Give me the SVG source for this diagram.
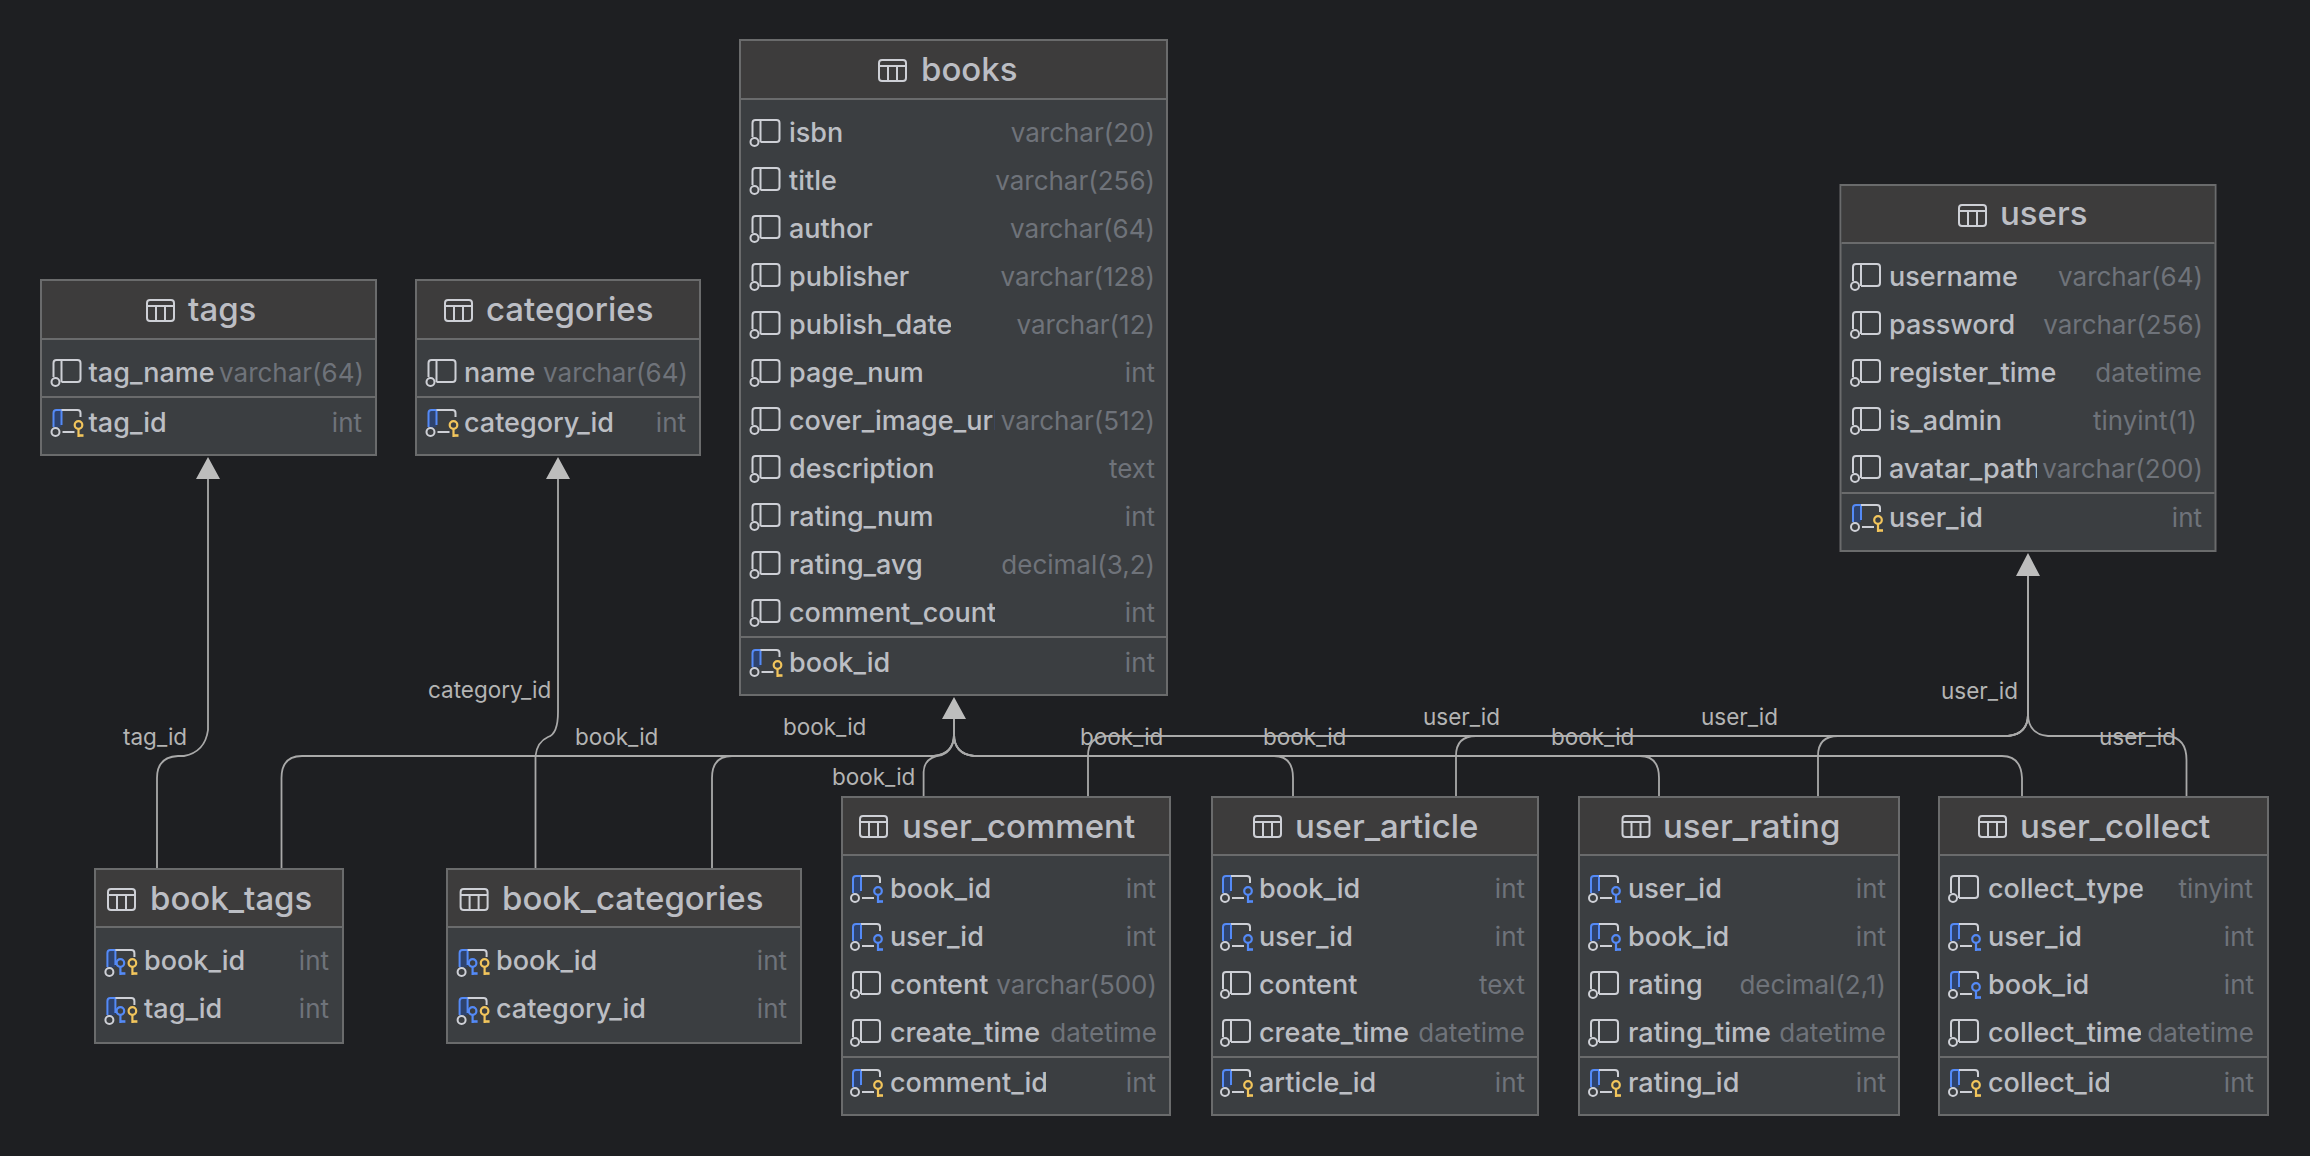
<svg xmlns="http://www.w3.org/2000/svg" width="2310" height="1156" viewBox="0 0 2310 1156">
<style>
text{font-family:Inter,"Noto Sans","Liberation Sans",sans-serif}
.b{fill:#3b3e41;stroke:#6a6b6c;stroke-width:2}
.h{fill:#3d3c3c}
.s{stroke:#6a6b6c;stroke-width:2;fill:none}
.t{font-size:33px;font-weight:500;fill:#bcbec4}
.n{font-size:27px;font-weight:500;fill:#bcbec4}
.y{font-size:26px;fill:#6f737a;text-anchor:end}
.l{font-size:22.500px;fill:#b4b4b4}
.c{fill:none;stroke:#a9a9a9;stroke-width:1.800}
.a{fill:#bdbdbd}
.ic{fill:none;stroke:#ced0d6;stroke-width:2}
</style>
<defs>
<clipPath id="c1"><rect x="780" y="300" width="171" height="48"/></clipPath>
<clipPath id="c2"><rect x="780" y="396" width="215" height="48"/></clipPath>
<clipPath id="c3"><rect x="780" y="444" width="154" height="48"/></clipPath>
<clipPath id="c4"><rect x="780" y="588" width="215" height="48"/></clipPath>
<clipPath id="c5"><rect x="460" y="400" width="154" height="50"/></clipPath>
<clipPath id="c6"><rect x="490" y="985" width="155" height="48"/></clipPath>
<clipPath id="c7"><rect x="1880" y="348" width="179" height="48"/></clipPath>
<clipPath id="c8"><rect x="1880" y="396" width="121" height="48"/></clipPath>
<clipPath id="c9"><rect x="1880" y="444" width="157" height="48"/></clipPath>
<clipPath id="c10"><rect x="885" y="1060" width="161" height="50"/></clipPath>
<clipPath id="c11"><rect x="1255" y="1060" width="120.500" height="50"/></clipPath>
<clipPath id="c12"><rect x="1980" y="864" width="162.700" height="48"/></clipPath>
<clipPath id="c13"><rect x="1980" y="1008" width="161" height="48"/></clipPath>
<clipPath id="c14"><rect x="1980" y="1060" width="129" height="50"/></clipPath>
<g id="ti"><rect x="1" y="1" width="27" height="21" rx="3" class="ic"/><path d="M1 7H28M10 7V22M19 7V22" class="ic"/></g>
<g id="col"><path d="M2 5V-9Q2-12 5-12H26Q29-12 29-9V7Q29 10 26 10H10M10-12V10" class="ic"/><circle cx="4" cy="10" r="4" class="ic"/></g>
<g id="blue"><path d="M2 6V-9Q2-12 5-12H10V5Z" fill="#2e436e"/><path d="M2 5V-9Q2-12 5-12H10V3" fill="none" stroke="#548af7" stroke-width="2"/><path d="M10-12H26Q29-12 29-9V-5" class="ic"/><circle cx="4" cy="10" r="4" class="ic"/></g>
<path id="bl" d="M11 10H23" class="ic"/>
<g id="gk" fill="none" stroke="#f2c55c" stroke-width="2.200"><circle cx="27" cy="3" r="3.800"/><path d="M27 7V15"/><path d="M27 13.500H32" stroke-width="2.600"/></g>
<g id="bk" fill="none" stroke="#548af7" stroke-width="2.200"><circle cx="27" cy="3" r="3.800"/><path d="M27 7V15"/><path d="M27 13.500H32" stroke-width="2.600"/></g>
<g id="pk"><use href="#blue"/><use href="#bl"/><use href="#gk"/></g>
<g id="fk"><use href="#blue"/><use href="#bl"/><use href="#bk"/></g>
<g id="pf"><use href="#blue"/><use href="#bk" x="-12" y="-2"/><use href="#gk" y="-2"/></g>
</defs>
<rect width="2310" height="1156" fill="#1e1f22"/>

<g id="connectors">
<path class="c" d="M157 869V778Q157 757 178 756H184Q205 752 208 730V478"/>
<path class="c" d="M535.500 869V756Q537 742 548 737Q558 734 558 712V478"/>
<path class="c" d="M281.500 869V778Q281.500 756 302 756H934Q954 754 954 734V718"/>
<path class="c" d="M712 869V778Q712 756 732 756H934Q954 754 954 734V718"/>
<path class="c" d="M923.600 796V772Q924 757 942 755Q954 750 954 734V718"/>
<path class="c" d="M1293 796V778Q1293 756 1274 756H974Q954 754 954 734V718"/>
<path class="c" d="M1659 796V778Q1659 756 1640 756H974Q954 754 954 734V718"/>
<path class="c" d="M2022 796V778Q2021 756 2002 756H974Q954 754 954 734V718"/>
<path class="c" d="M1088 796V756Q1088 736 1108 736H2008Q2028 734 2028 714V574"/>
<path class="c" d="M1456 796V756Q1456 736 1476 736H2008Q2028 734 2028 714V574"/>
<path class="c" d="M1818 796V756Q1818 736 1838 736H2008Q2028 734 2028 714V574"/>
<path class="c" d="M2186.500 796V760Q2186.500 738 2168 736H2048Q2028 734 2028 714V574"/>
<path class="a" d="M208 457L196 479H220ZM558 457L546 479H570ZM954 697L942 719H966ZM2028 553L2016 576H2040Z"/>
<text class="l" x="123" y="745">tag_id</text>
<text class="l" x="428" y="698">category_id</text>
<text class="l" x="575" y="745">book_id</text>
<text class="l" x="783" y="735">book_id</text>
<text class="l" x="832" y="785">book_id</text>
<text class="l" x="1080" y="745">book_id</text>
<text class="l" x="1263" y="745">book_id</text>
<text class="l" x="1551" y="745">book_id</text>
<text class="l" x="1423" y="725">user_id</text>
<text class="l" x="1701" y="725">user_id</text>
<text class="l" x="1941" y="699">user_id</text>
<text class="l" x="2099" y="745">user_id</text>
</g>

<g id="tags">
<rect class="b" x="41" y="280" width="335" height="175"/><rect class="h" x="42" y="281" width="333" height="58"/>
<path class="s" d="M42 339H375M42 397H375"/>
<use href="#ti" x="146" y="299"/><text class="t" x="188" y="321">tags</text>
<use href="#col" x="51.500" y="372"/><text class="n" x="88.500" y="382">tag_name</text><text class="y" x="364" y="382">varchar(64)</text>
<use href="#pk" x="51.500" y="422"/><text class="n" x="88.500" y="432">tag_id</text><text class="y" x="362" y="432">int</text>
</g>

<g id="categories">
<rect class="b" x="416" y="280" width="284" height="175"/><rect class="h" x="417" y="281" width="282" height="58"/>
<path class="s" d="M417 339H699M417 397H699"/>
<use href="#ti" x="444" y="299"/><text class="t" x="486" y="321">categories</text>
<use href="#col" x="426.500" y="372"/><text class="n" x="464" y="382">name</text><text class="y" x="688" y="382">varchar(64)</text>
<use href="#pk" x="426.500" y="422"/><text class="n" x="464" y="432" clip-path="url(#c5)">category_id</text><text class="y" x="686" y="432">int</text>
</g>

<g id="books">
<rect class="b" x="740" y="40" width="427" height="655"/><rect class="h" x="741" y="41" width="425" height="58"/>
<path class="s" d="M741 99H1166M741 637H1166"/>
<use href="#ti" x="878" y="59"/><text class="t" x="921" y="81">books</text>
<use href="#col" x="750.500" y="132"/><text class="n" x="789" y="142">isbn</text><text class="y" x="1155" y="142">varchar(20)</text>
<use href="#col" x="750.500" y="180"/><text class="n" x="789" y="190">title</text><text class="y" x="1155" y="190">varchar(256)</text>
<use href="#col" x="750.500" y="228"/><text class="n" x="789" y="238">author</text><text class="y" x="1155" y="238">varchar(64)</text>
<use href="#col" x="750.500" y="276"/><text class="n" x="789" y="286">publisher</text><text class="y" x="1155" y="286">varchar(128)</text>
<use href="#col" x="750.500" y="324"/><text class="n" x="789" y="334" clip-path="url(#c1)">publish_date</text><text class="y" x="1155" y="334">varchar(12)</text>
<use href="#col" x="750.500" y="372"/><text class="n" x="789" y="382">page_num</text><text class="y" x="1155" y="382">int</text>
<use href="#col" x="750.500" y="420"/><text class="n" x="789" y="430" clip-path="url(#c2)">cover_image_url</text><text class="y" x="1155" y="430">varchar(512)</text>
<use href="#col" x="750.500" y="468"/><text class="n" x="789" y="478" clip-path="url(#c3)">description</text><text class="y" x="1155" y="478">text</text>
<use href="#col" x="750.500" y="516"/><text class="n" x="789" y="526">rating_num</text><text class="y" x="1155" y="526">int</text>
<use href="#col" x="750.500" y="564"/><text class="n" x="789" y="574">rating_avg</text><text class="y" x="1155" y="574">decimal(3,2)</text>
<use href="#col" x="750.500" y="612"/><text class="n" x="789" y="622" clip-path="url(#c4)">comment_count</text><text class="y" x="1155" y="622">int</text>
<use href="#pk" x="750.500" y="662"/><text class="n" x="789" y="672">book_id</text><text class="y" x="1155" y="672">int</text>
</g>

<g id="users">
<rect class="b" x="1840.500" y="185" width="375" height="366"/><rect class="h" x="1841.500" y="186" width="373" height="57"/>
<path class="s" d="M1841.500 243H2214.500M1841.500 493H2214.500"/>
<use href="#ti" x="1958" y="204"/><text class="t" x="2000" y="225">users</text>
<use href="#col" x="1851" y="276"/><text class="n" x="1889" y="286">username</text><text class="y" x="2203" y="286">varchar(64)</text>
<use href="#col" x="1851" y="324"/><text class="n" x="1889" y="334">password</text><text class="y" x="2203" y="334">varchar(256)</text>
<use href="#col" x="1851" y="372"/><text class="n" x="1889" y="382" clip-path="url(#c7)">register_time</text><text class="y" x="2202" y="382">datetime</text>
<use href="#col" x="1851" y="420"/><text class="n" x="1889" y="430" clip-path="url(#c8)">is_admin</text><text class="y" x="2197" y="430">tinyint(1)</text>
<use href="#col" x="1851" y="468"/><text class="n" x="1889" y="478" clip-path="url(#c9)">avatar_path</text><text class="y" x="2203" y="478">varchar(200)</text>
<use href="#pk" x="1851" y="517"/><text class="n" x="1889" y="527">user_id</text><text class="y" x="2202" y="527">int</text>
</g>

<g id="book_tags">
<rect class="b" x="95" y="869" width="248" height="174"/><rect class="h" x="96" y="870" width="246" height="57"/>
<path class="s" d="M96 927H342"/>
<use href="#ti" x="107" y="888"/><text class="t" x="150" y="910">book_tags</text>
<use href="#pf" x="105.400" y="962"/><text class="n" x="144" y="970">book_id</text><text class="y" x="329" y="970">int</text>
<use href="#pf" x="105.400" y="1010"/><text class="n" x="144" y="1018">tag_id</text><text class="y" x="329" y="1018">int</text>
</g>

<g id="book_categories">
<rect class="b" x="447" y="869" width="354" height="174"/><rect class="h" x="448" y="870" width="352" height="57"/>
<path class="s" d="M448 927H800"/>
<use href="#ti" x="459.600" y="888"/><text class="t" x="502" y="910">book_categories</text>
<use href="#pf" x="457.600" y="962"/><text class="n" x="496" y="970">book_id</text><text class="y" x="787" y="970">int</text>
<use href="#pf" x="457.600" y="1010"/><text class="n" x="496" y="1018" clip-path="url(#c6)">category_id</text><text class="y" x="787" y="1018">int</text>
</g>

<g id="user_comment">
<rect class="b" x="842" y="797" width="328" height="318"/><rect class="h" x="843" y="798" width="326" height="57"/>
<path class="s" d="M843 855H1169M843 1057H1169"/>
<use href="#ti" x="859" y="815"/><text class="t" x="902" y="838">user_comment</text>
<use href="#fk" x="851" y="888"/><text class="n" x="890" y="898">book_id</text><text class="y" x="1156" y="898">int</text>
<use href="#fk" x="851" y="936"/><text class="n" x="890" y="946">user_id</text><text class="y" x="1156" y="946">int</text>
<use href="#col" x="851" y="984"/><text class="n" x="890" y="994">content</text><text class="y" x="1157" y="994">varchar(500)</text>
<use href="#col" x="851" y="1032"/><text class="n" x="890" y="1042">create_time</text><text class="y" x="1157" y="1042">datetime</text>
<use href="#pk" x="851" y="1082"/><text class="n" x="890" y="1092" clip-path="url(#c10)">comment_id</text><text class="y" x="1156" y="1092">int</text>
</g>

<g id="user_article">
<rect class="b" x="1212" y="797" width="326" height="318"/><rect class="h" x="1213" y="798" width="324" height="57"/>
<path class="s" d="M1213 855H1537M1213 1057H1537"/>
<use href="#ti" x="1253" y="815"/><text class="t" x="1295" y="838">user_article</text>
<use href="#fk" x="1221" y="888"/><text class="n" x="1259" y="898">book_id</text><text class="y" x="1525" y="898">int</text>
<use href="#fk" x="1221" y="936"/><text class="n" x="1259" y="946">user_id</text><text class="y" x="1525" y="946">int</text>
<use href="#col" x="1221" y="984"/><text class="n" x="1259" y="994">content</text><text class="y" x="1525" y="994">text</text>
<use href="#col" x="1221" y="1032"/><text class="n" x="1259" y="1042">create_time</text><text class="y" x="1525" y="1042">datetime</text>
<use href="#pk" x="1221" y="1082"/><text class="n" x="1259" y="1092" clip-path="url(#c11)">article_id</text><text class="y" x="1525" y="1092">int</text>
</g>

<g id="user_rating">
<rect class="b" x="1579" y="797" width="320" height="318"/><rect class="h" x="1580" y="798" width="318" height="57"/>
<path class="s" d="M1580 855H1898M1580 1057H1898"/>
<use href="#ti" x="1621.500" y="815"/><text class="t" x="1663" y="838">user_rating</text>
<use href="#fk" x="1589" y="888"/><text class="n" x="1628" y="898">user_id</text><text class="y" x="1886" y="898">int</text>
<use href="#fk" x="1589" y="936"/><text class="n" x="1628" y="946">book_id</text><text class="y" x="1886" y="946">int</text>
<use href="#col" x="1589" y="984"/><text class="n" x="1628" y="994">rating</text><text class="y" x="1886" y="994">decimal(2,1)</text>
<use href="#col" x="1589" y="1032"/><text class="n" x="1628" y="1042">rating_time</text><text class="y" x="1886" y="1042">datetime</text>
<use href="#pk" x="1589" y="1082"/><text class="n" x="1628" y="1092">rating_id</text><text class="y" x="1886" y="1092">int</text>
</g>

<g id="user_collect">
<rect class="b" x="1939" y="797" width="329" height="318"/><rect class="h" x="1940" y="798" width="327" height="57"/>
<path class="s" d="M1940 855H2267M1940 1057H2267"/>
<use href="#ti" x="1978" y="815"/><text class="t" x="2020" y="838">user_collect</text>
<use href="#col" x="1949" y="888"/><text class="n" x="1988" y="898" clip-path="url(#c12)">collect_type</text><text class="y" x="2253" y="898">tinyint</text>
<use href="#fk" x="1949" y="936"/><text class="n" x="1988" y="946">user_id</text><text class="y" x="2254" y="946">int</text>
<use href="#fk" x="1949" y="984"/><text class="n" x="1988" y="994">book_id</text><text class="y" x="2254" y="994">int</text>
<use href="#col" x="1949" y="1032"/><text class="n" x="1988" y="1042" clip-path="url(#c13)">collect_time</text><text class="y" x="2254" y="1042">datetime</text>
<use href="#pk" x="1949" y="1082"/><text class="n" x="1988" y="1092" clip-path="url(#c14)">collect_id</text><text class="y" x="2254" y="1092">int</text>
</g>
</svg>
